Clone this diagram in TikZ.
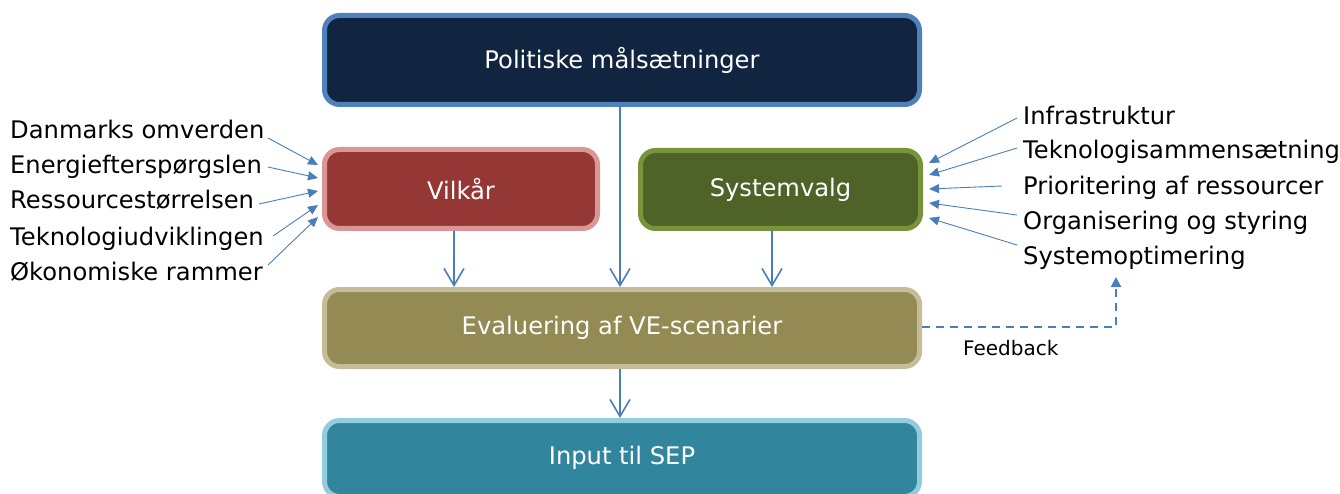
\documentclass[tikz,border=0pt]{standalone}
\usepackage{fontspec}
\setmainfont{DejaVu Sans}
\usetikzlibrary{arrows.meta,calc}
\definecolor{polfill}{RGB}{17,37,64}
\definecolor{polline}{RGB}{79,129,189}
\definecolor{vilfill}{RGB}{149,55,53}
\definecolor{villine}{RGB}{217,150,148}
\definecolor{sysfill}{RGB}{79,98,40}
\definecolor{sysline}{RGB}{119,147,60}
\definecolor{evfill}{RGB}{148,138,84}
\definecolor{evline}{RGB}{196,189,151}
\definecolor{inpfill}{RGB}{49,133,156}
\definecolor{inpline}{RGB}{147,205,221}
\definecolor{arrblue}{RGB}{74,126,187}
\tikzset{
  box/.style={draw, rounded corners=15pt, line width=5pt, inner sep=0pt,
    text=white, font=\fontsize{24.2}{29}\selectfont},
  lbl/.style={inner sep=0pt, font=\fontsize{24.2}{29}\selectfont, text=black},
  bigarr/.style={draw=arrblue, line width=1.6pt, -{Straight Barb[length=17pt,width=20pt,line width=1.6pt]}},
  smallarr/.style={draw=arrblue, line width=0.9pt, -{Triangle[length=10pt,width=9pt]}},
  fbarr/.style={draw=arrblue, line width=2pt, dash pattern=on 8pt off 6pt, -{Triangle[length=10pt,width=10pt]}}
}
\begin{document}
\begin{tikzpicture}[x=1pt,y=-1pt]
\useasboundingbox (0,0) rectangle (1340,494);
\clip (0,0) rectangle (1340,494);
% boxes
\node[box, draw=polline, fill=polfill, minimum width=595pt, minimum height=89pt] (pol) at (622,60) {Politiske målsætninger};
\node[box, draw=villine, fill=vilfill, minimum width=273pt, minimum height=79pt] (vil) at (461,189) {Vilkår};
\node[box, draw=sysline, fill=sysfill, minimum width=280pt, minimum height=78pt] (sys) at (780.5,189.5) {Systemvalg};
\node[box, draw=evline, fill=evfill, minimum width=595pt, minimum height=77pt] (ev) at (622,328) {Evaluering af VE-scenarier};
\node[box, draw=inpline, fill=inpfill, minimum width=595pt, minimum height=76pt] (inp) at (622,458.5) {};
\node[text=white, font=\fontsize{24.2}{29}\selectfont, inner sep=0pt] (inptxt) at (622,458) {Input til SEP};
% main arrows
\draw[bigarr] ($(pol.south)+(-2,0)$) -- ($(ev.north)+(-2,0)$);
\draw[bigarr] (vil.south -| 454,0) -- (ev.north -| 454,0);
\draw[bigarr] (sys.south -| 772,0) -- (ev.north -| 772,0);
\draw[bigarr] ($(ev.south)+(-2,0)$) -- ($(inp.north)+(-2,0)$);
% left labels
\node[lbl, anchor=base west] (l1) at (10,139) {Danmarks omverden};
\node[lbl, anchor=base west] (l2) at (10,174) {Energiefterspørgslen};
\node[lbl, anchor=base west] (l3) at (10,209) {Ressourcestørrelsen};
\node[lbl, anchor=base west] (l4) at (10,245) {Teknologiudviklingen};
\node[lbl, anchor=base west] (l5) at (10,280) {Økonomiske rammer};
\coordinate (l1s) at (268,138); \coordinate (l1e) at (318,165);
\coordinate (l2s) at (268,167); \coordinate (l2e) at (318,178);
\coordinate (l3s) at (259,204); \coordinate (l3e) at (318,191);
\coordinate (l4s) at (273,236); \coordinate (l4e) at (318,205);
\coordinate (l5s) at (268,265); \coordinate (l5e) at (318,217);
\foreach \i in {1,...,5} {\draw[smallarr] (l\i s) -- (l\i e);}
% right labels
\node[lbl, anchor=base west] (r1) at (1023,125) {Infrastruktur};
\node[lbl, anchor=base west] (r2) at (1023,159) {Teknologisammensætning};
\node[lbl, anchor=base west] (r3) at (1023,195) {Prioritering af ressourcer};
\node[lbl, anchor=base west] (r4) at (1023,230) {Organisering og styring};
\node[lbl, anchor=base west] (r5) at (1023,264) {Systemoptimering};
\coordinate (r1s) at (1017,118); \coordinate (r1e) at (929,163);
\coordinate (r2s) at (1017,148); \coordinate (r2e) at (929,175);
\coordinate (r3s) at (1002,186); \coordinate (r3e) at (929,189);
\coordinate (r4s) at (1017,215); \coordinate (r4e) at (929,203);
\coordinate (r5s) at (1017,245); \coordinate (r5e) at (929,218);
\foreach \i in {1,...,5} {\draw[smallarr] (r\i s) -- (r\i e);}
% feedback
\coordinate (fbtop) at (1116,277);
\draw[fbarr] (ev.east |- 0,327) -- (1116,327) -- (fbtop);
\node[inner sep=0pt, anchor=base west, font=\fontsize{20}{24}\selectfont] (fb) at (963,355) {Feedback};
\end{tikzpicture}
\end{document}
